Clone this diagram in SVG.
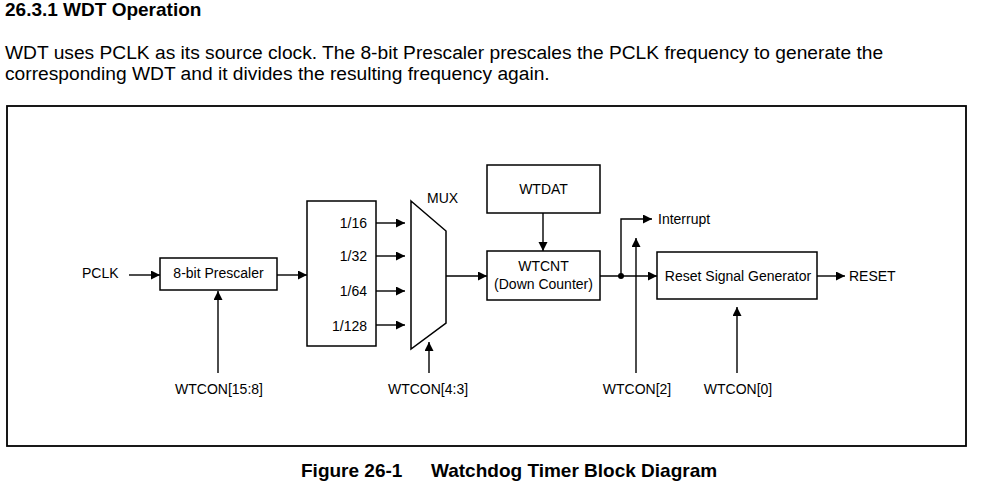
<svg xmlns="http://www.w3.org/2000/svg" width="984" height="486" viewBox="0 0 984 486">
<style>
.t{font-family:"Liberation Sans",Arial,sans-serif;font-size:14px;fill:#000}
.m{text-anchor:middle}
.e{text-anchor:end}
.body{font-family:"Liberation Sans",Arial,sans-serif;font-size:19.2px;fill:#000}
.hd{font-family:"Liberation Sans",Arial,sans-serif;font-size:19px;font-weight:bold;fill:#000}
.box{fill:#fff;stroke:#000;stroke-width:1.5}
.a{fill:none;stroke:#000;stroke-width:1.4;marker-end:url(#ah)}
</style>
<defs>
<marker id="ah" markerUnits="userSpaceOnUse" markerWidth="10" markerHeight="10" refX="9" refY="4.5" orient="auto">
<path d="M0,0 L9,4.5 L0,9 z" fill="#000"/>
</marker>
</defs>
<rect width="984" height="486" fill="#fff"/>
<text class="hd" x="5" y="16">26.3.1 WDT Operation</text>
<text class="body" x="5" y="59">WDT uses PCLK as its source clock. The 8-bit Prescaler prescales the PCLK frequency to generate the</text>
<text class="body" x="5" y="80">corresponding WDT and it divides the resulting frequency again.</text>
<rect x="7" y="106" width="959" height="340" fill="none" stroke="#000" stroke-width="1.8"/>
<text class="hd" x="301" y="477">Figure 26-1</text>
<text class="hd" x="431" y="477">Watchdog Timer Block Diagram</text>

<g id="connectors">
<path class="a" d="M129,275 H160"/>
<path class="a" d="M277,275 H307"/>
<path class="a" d="M218,373 V291"/>
<path class="a" d="M376,223 H405"/>
<path class="a" d="M376,256 H405"/>
<path class="a" d="M376,291 H405"/>
<path class="a" d="M376,325 H405"/>
<path class="a" d="M429,373 V342"/>
<path class="a" d="M446,276 H487"/>
<path class="a" d="M543,213 V251"/>
<path class="a" d="M600,276 H657"/>
<path class="a" d="M621,276 V219 H652"/>
<circle cx="621" cy="276" r="3" fill="#000"/>
<path class="a" d="M636,373 V238"/>
<path class="a" d="M817,276 H845"/>
<path class="a" d="M737,373 V307"/>
</g>

<g id="pclk"><text class="t" x="82" y="278">PCLK</text></g>
<g id="prescaler">
<rect class="box" x="160" y="258" width="117" height="32"/>
<text class="t m" x="218.5" y="278">8-bit Prescaler</text>
</g>
<g id="wtcon158"><text class="t m" x="219" y="394">WTCON[15:8]</text></g>
<g id="divider">
<rect class="box" x="307" y="201" width="69" height="145"/>
<text class="t e" x="367" y="228">1/16</text>
<text class="t e" x="367" y="261">1/32</text>
<text class="t e" x="367" y="296">1/64</text>
<text class="t e" x="367" y="331">1/128</text>
</g>
<g id="mux">
<path class="box" d="M411,201 L446,231 L446,323 L411,349 Z"/>
<text class="t" x="427" y="203">MUX</text>
</g>
<g id="wtcon43"><text class="t m" x="428" y="394">WTCON[4:3]</text></g>
<g id="wtdat">
<rect class="box" x="487" y="165" width="113" height="48"/>
<text class="t m" x="543.5" y="194">WTDAT</text>
</g>
<g id="wtcnt">
<rect class="box" x="487" y="251" width="113" height="49"/>
<text class="t m" x="543.5" y="271">WTCNT</text>
<text class="t m" x="543.5" y="289">(Down Counter)</text>
</g>
<g id="interrupt"><text class="t" x="658" y="224">Interrupt</text></g>
<g id="wtcon2"><text class="t m" x="637" y="394">WTCON[2]</text></g>
<g id="resetgen">
<rect class="box" x="657" y="252" width="160" height="47"/>
<text class="t m" x="738" y="281">Reset Signal Generator</text>
</g>
<g id="reset"><text class="t" x="849" y="281">RESET</text></g>
<g id="wtcon0"><text class="t m" x="738" y="394">WTCON[0]</text></g>
</svg>
